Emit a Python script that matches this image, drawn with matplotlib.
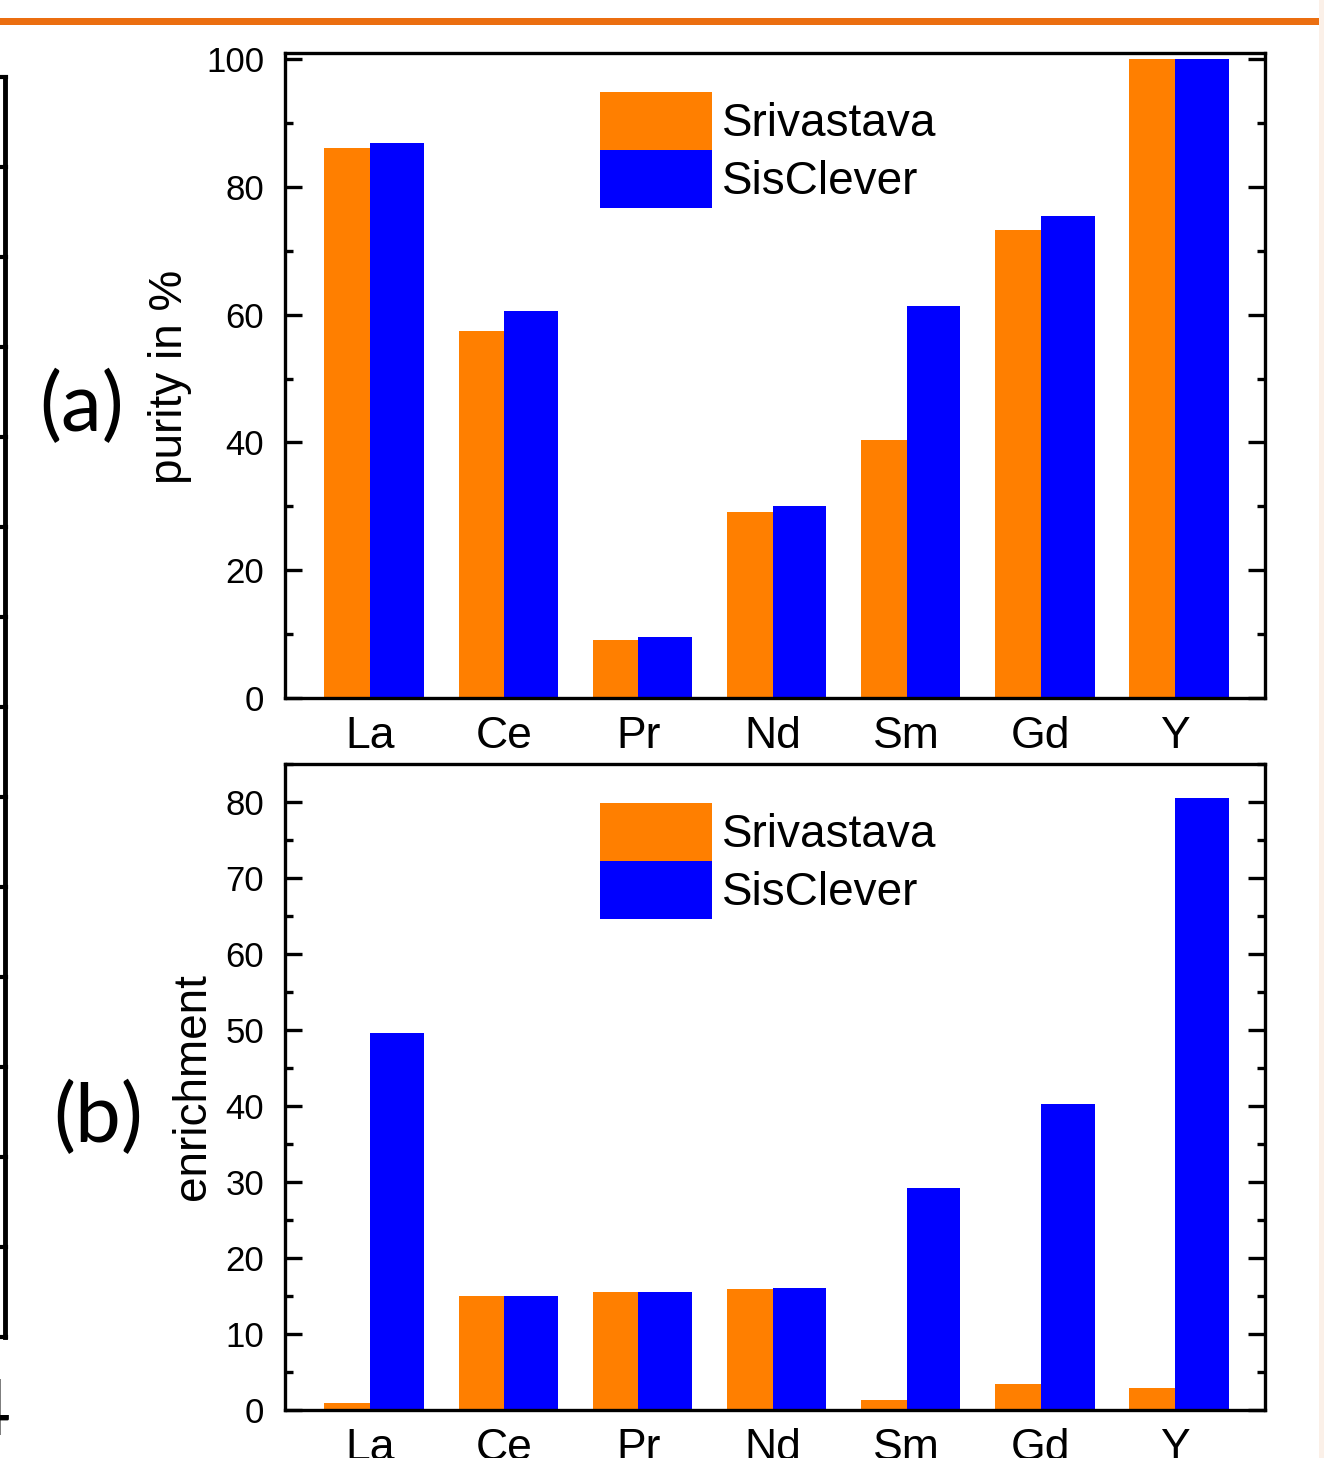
import matplotlib
matplotlib.use('Agg')
import matplotlib.pyplot as plt
from matplotlib.lines import Line2D
from matplotlib.patches import Rectangle
from matplotlib.ticker import MultipleLocator

# Data
elements = ['La', 'Ce', 'Pr', 'Nd', 'Sm', 'Gd', 'Y']
purity_srivastava = [86.1, 57.4, 9.1, 29.1, 40.4, 73.2, 100.0]
purity_sisclever = [86.9, 60.6, 9.5, 30.0, 61.3, 75.4, 100.0]
enrich_srivastava = [0.9, 15.0, 15.5, 15.9, 1.3, 3.4, 2.9]
enrich_sisclever = [49.6, 15.0, 15.5, 16.1, 29.2, 40.3, 80.5]

orange = '#FF7F00'
blue = '#0000FF'

plt.rcParams['font.family'] = ['Liberation Sans', 'DejaVu Sans']

W, H = 1324, 1458
fig = plt.figure(figsize=(W / 100, H / 100), dpi=100)


def px(x, y):
    # pixel position (from top left) to figure fraction
    return x / W, 1 - y / H


ax1 = fig.add_axes([285 / W, 1 - 698 / H, 980 / W, 645 / H])
ax2 = fig.add_axes([285 / W, 1 - 1410 / H, 980 / W, 646 / H])

idx = list(range(len(elements)))
panels = [
    (ax1, purity_srivastava, purity_sisclever, 100.94, 20, 10),
    (ax2, enrich_srivastava, enrich_sisclever, 85.0, 10, 5),
]

for ax, sri, sis, ytop, major, minor in panels:
    ax.bar([i - 0.34 for i in idx], sri, width=0.345, align='edge',
           color=orange, linewidth=0, label='Srivastava')
    ax.bar(idx, sis, width=0.40, align='edge',
           color=blue, linewidth=0, label='SisClever')
    ax.set_xlim(-0.633, 6.67)
    ax.set_ylim(0, ytop)
    ax.set_xticks(idx)
    ax.set_xticklabels(elements, fontsize=32)
    ax.yaxis.set_major_locator(MultipleLocator(major))
    ax.yaxis.set_minor_locator(MultipleLocator(minor))
    ax.tick_params(axis='y', which='major', direction='in', left=True, right=True,
                   length=12, width=2.4, labelsize=25, pad=15)
    ax.tick_params(axis='y', which='minor', direction='in', left=True, right=True,
                   length=6, width=2.4)
    ax.tick_params(axis='x', length=0, pad=13)
    for s in ax.spines.values():
        s.set_linewidth(2.4)
    ax.legend(loc='upper left', bbox_to_anchor=(315 / 980, 0.9395), frameon=False,
              fontsize=33, handlelength=2.45, handleheight=1.571, labelspacing=0,
              handletextpad=0.22, borderpad=0, borderaxespad=0)

# y labels
fig.text(*px(182, 377), 'purity in %', rotation=90, rotation_mode='anchor',
         ha='center', va='baseline', fontsize=33)
fig.text(*px(205, 1087), 'enrichment', rotation=90, rotation_mode='anchor',
         ha='center', va='baseline', fontsize=33)

# panel letters
fig.text(*px(82, 407), '(a)', family=['Lato', 'DejaVu Sans'], fontsize=59,
         ha='center', va='center')
fig.text(*px(98, 1118), '(b)', family=['Lato', 'DejaVu Sans'], fontsize=59,
         ha='center', va='center')
fig.text(*px(10, 1435), '4', family=['Lato', 'DejaVu Sans'], fontsize=56,
         ha='right', va='baseline')

# slide decorations: orange rule at top, cut-off bracket at left, pale right edge
fig.add_artist(Rectangle(px(0, 25), 1, 7 / H, transform=fig.transFigure,
                         color='#EB6E10', linewidth=0))
fig.add_artist(Rectangle(px(1319, H), 5 / W, 1, transform=fig.transFigure,
                         color='#FBF0E8', linewidth=0))
fig.add_artist(Line2D([5 / W, 5 / W], [1 - 77 / H, 1 - 1337 / H],
                      transform=fig.transFigure, color='black', lw=3.5))
for yy in [77, 1337] + list(range(167, 1250, 90)):
    fig.add_artist(Line2D([0, 6 / W], [1 - yy / H, 1 - yy / H],
                          transform=fig.transFigure, color='black', lw=3))

fig.savefig('out.png', dpi=100)
